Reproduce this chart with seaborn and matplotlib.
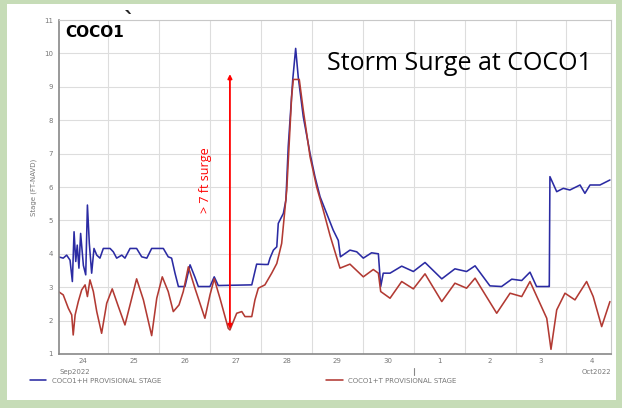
import numpy as np
import pandas as pd
import seaborn as sns
import matplotlib.pyplot as plt
import matplotlib.dates as mdates
import matplotlib.transforms as mtransforms
from matplotlib.patches import Rectangle
from matplotlib.ticker import FuncFormatter, MultipleLocator

# hours since 2022-09-24 00:00
blue_hours = [0.4, 2.7, 4.3, 5.9, 7.0, 7.8, 8.6, 9.3, 10.1, 10.9, 12.2, 13.3, 14.1, 15.0,
              16.1, 17.2, 18.5, 20.0, 21.6, 24.8, 26.3, 27.9, 30.3, 31.8, 34.2, 37.3,
              39.7, 42.1, 44.4, 49.9, 52.2, 53.8, 55.4, 57.0, 60.1, 62.5, 64.8, 66.4,
              71.9, 73.9, 75.8, 91.6, 93.9, 97.8, 99.3, 100.2, 101.8, 103.4, 104.1,
              106.5, 107.7, 108.8, 110.9, 112.3, 113.5, 115.9, 119.1, 121.4, 123.8,
              126.9, 130.0, 132.4, 133.4, 137.9, 141.1, 144.2, 148.1, 151.3, 152.4,
              153.6, 156.8, 162.3, 167.8, 173.3, 181.2, 187.4, 192.9, 196.9, 203.9,
              209.4, 214.2, 218.9, 222.8, 225.9, 231.4, 231.9, 232.2, 235.4, 238.5,
              241.6, 246.4, 248.7, 251.1, 255.8, 260.5]
blue_stage = [3.91, 3.87, 3.96, 3.81, 3.17, 4.66, 3.77, 4.26, 3.57, 4.61, 3.65, 3.37, 5.46, 4.31,
              3.42, 4.16, 3.96, 3.87, 4.16, 4.16, 4.06, 3.87, 3.96, 3.87, 4.16, 4.16,
              3.91, 3.87, 4.16, 4.16, 3.91, 3.87, 3.42, 3.02, 3.02, 3.67, 3.30, 3.02,
              3.02, 3.31, 3.05, 3.07, 3.69, 3.68, 3.68, 3.87, 4.11, 4.21, 4.91,
              5.21, 5.61, 7.21, 9.20, 10.15, 9.30, 8.10, 7.00, 6.31, 5.71,
              5.21, 4.71, 4.40, 3.91, 4.11, 4.06, 3.87, 4.03, 4.00, 3.02,
              3.42, 3.42, 3.63, 3.47, 3.74, 3.25, 3.55, 3.47, 3.64, 3.04,
              3.02, 3.24, 3.20, 3.45, 3.02, 3.02, 3.02, 6.31, 5.86, 5.96,
              5.91, 6.06, 5.81, 6.06, 6.06, 6.21]

red_hours = [0.4, 2.7, 5.1, 6.7, 7.4, 8.3, 9.8, 11.4, 13.0, 14.1, 15.3, 16.9, 18.5, 20.8,
             23.2, 25.8, 28.7, 31.8, 34.2, 37.3, 40.5, 44.4, 46.8, 49.4, 52.2, 54.6,
             57.3, 59.3, 61.7, 64.8, 69.5, 71.9, 73.9, 76.6, 80.5, 81.3, 84.5, 86.9,
             88.4, 91.6, 93.1, 94.7, 97.8, 101.0, 103.4, 105.7, 108.1, 110.4, 111.2,
             114.0, 115.9, 119.1, 122.2, 125.3, 128.5, 133.2, 137.9, 144.2, 148.9,
             151.3, 152.4, 156.8, 162.3, 167.8, 173.3, 181.2, 187.4, 192.9, 196.9,
             207.1, 213.4, 218.9, 222.8, 230.7, 232.7, 235.4, 239.3, 244.0, 249.5,
             252.6, 256.6, 260.5]
red_stage = [2.87, 2.77, 2.37, 2.17, 1.57, 2.17, 2.57, 2.92, 3.07, 2.72, 3.22, 2.87, 2.27, 1.62,
             2.52, 2.95, 2.42, 1.87, 2.47, 3.25, 2.62, 1.55, 2.67, 3.31, 2.87, 2.27,
             2.47, 2.87, 3.61, 2.97, 2.07, 2.77, 3.25, 2.67, 1.77, 1.72, 2.22, 2.27,
             2.12, 2.12, 2.62, 2.97, 3.07, 3.42, 3.71, 4.31, 5.91, 8.70, 9.22,
             9.22, 8.30, 6.90, 6.00, 5.31, 4.55, 3.57, 3.69, 3.31, 3.53,
             3.42, 2.87, 2.67, 3.17, 2.95, 3.40, 2.57, 3.12, 2.97, 3.27,
             2.22, 2.82, 2.72, 3.17, 2.07, 1.14, 2.32, 2.82, 2.62, 3.17,
             2.72, 1.82, 2.57]

series_names = ["COCO1+H PROVISIONAL STAGE", "COCO1+T PROVISIONAL STAGE"]
series_colors = ["#2B2BA3", "#B23A33"]

start = pd.Timestamp("2022-09-24")
arrow_hour, arrow_low, arrow_high = 81.3, 1.75, 9.38

df = pd.concat([
    pd.DataFrame({"time": start + pd.to_timedelta(blue_hours, unit="h"),
                  "stage": blue_stage, "series": series_names[0]}),
    pd.DataFrame({"time": start + pd.to_timedelta(red_hours, unit="h"),
                  "stage": red_stage, "series": series_names[1]}),
])

sns.set_style("white")
W, H = 622, 408
fig = plt.figure(figsize=(W / 100, H / 100), dpi=100, facecolor="#C6DCB7")
fig.patches.append(Rectangle((7 / W, 8 / H), 609 / W, 396 / H, transform=fig.transFigure,
                             facecolor="white", edgecolor="none", zorder=-10))
ax = fig.add_axes([59 / W, 1 - 354 / H, 552 / W, 334 / H])
ax.set_facecolor("none")

sns.lineplot(data=df, x="time", y="stage", hue="series", palette=dict(zip(series_names, series_colors)),
             linewidth=1.15, ax=ax, sort=False)

ax.set_xlim(start + pd.Timedelta(hours=0.7), start + pd.Timedelta(hours=261))
ax.set_ylim(1, 11)
ax.yaxis.set_major_locator(MultipleLocator(1))
ax.xaxis.set_major_locator(mdates.DayLocator())
ax.xaxis.set_major_formatter(FuncFormatter(lambda v, p: ""))
ax.xaxis.set_minor_locator(mdates.HourLocator(byhour=12))
ax.xaxis.set_minor_formatter(FuncFormatter(lambda v, p: str(mdates.num2date(v).day)))
ax.tick_params(axis="x", which="major", direction="inout", length=7, width=1, color="#777777")
ax.tick_params(axis="x", which="minor", length=0, pad=3, labelsize=5, labelcolor="#777777")
ax.tick_params(axis="y", direction="inout", length=5, width=1, color="#888888",
               pad=2, labelsize=5, labelcolor="#777777")
ax.grid(True, which="major", color="#DDDDDD", linewidth=0.8)
ax.set_axisbelow(True)
for side in ["left", "bottom"]:
    ax.spines[side].set_color("#888888")
    ax.spines[side].set_linewidth(1.2)
for side in ["top", "right"]:
    ax.spines[side].set_color("#C8C8C8")
    ax.spines[side].set_linewidth(0.8)
ax.set_xlabel("")
ax.set_ylabel("Stage (FT-NAVD)", fontsize=5, color="#777777", labelpad=5)

# month labels and month boundary tick
ax.text(0.0, -0.054, "Sep2022", transform=ax.transAxes, ha="left", va="center", fontsize=5, color="#777777")
ax.text(1.0, -0.054, "Oct2022", transform=ax.transAxes, ha="right", va="center", fontsize=5, color="#777777")
trans = mtransforms.blended_transform_factory(ax.transData, ax.transAxes)
oct1 = mdates.date2num(pd.Timestamp("2022-10-01"))
ax.plot([oct1, oct1], [-0.042, -0.064], transform=trans, clip_on=False, color="#888888", lw=0.8)

handles, labels = ax.get_legend_handles_labels()
ax.legend(handles, labels, ncol=2, loc="upper left", bbox_to_anchor=(27 / W, 1 - 375 / H),
          bbox_transform=fig.transFigure, frameon=False, fontsize=5, handlelength=2.4,
          columnspacing=23.7, labelcolor="#777777", borderaxespad=0, handletextpad=0.8)

ax.text(0.011, 0.962, "COCO1", transform=ax.transAxes, ha="left", va="center",
        fontsize=11, fontweight="bold", color="black")
ax.text(0.725, 0.871, "Storm Surge at COCO1", transform=ax.transAxes, ha="center", va="center",
        fontsize=18, family="Open Sans", color="black")
fig.text(130 / W, 1 - 21 / H, "`", ha="center", va="center", fontsize=16, fontweight="bold")

ax.annotate("", xy=(start + pd.Timedelta(hours=arrow_hour), arrow_low),
            xytext=(start + pd.Timedelta(hours=arrow_hour), arrow_high),
            arrowprops=dict(arrowstyle="<|-|>", color="red", lw=1.3, mutation_scale=6,
                            shrinkA=0, shrinkB=0))
ax.text(start + pd.Timedelta(hours=70.0), 6.2, "> 7 ft surge", rotation=90, ha="center", va="center",
        fontsize=9, family="Open Sans", color="red")

fig.savefig("out.png", dpi=100, facecolor=fig.get_facecolor())
